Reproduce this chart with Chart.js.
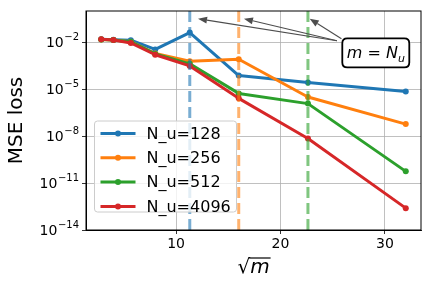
<!DOCTYPE html>
<html>
<head>
<meta charset="utf-8">
<script src="https://cdn.jsdelivr.net/npm/chart.js@4.4.0/dist/chart.umd.min.js"></script>
<style>
  html, body { margin: 0; padding: 0; background: #fff; }
</style>
</head>
<body>
<canvas id="lossChart" width="432" height="288"></canvas>
<script>
// ---------------------------------------------------------------------------
// Data
// ---------------------------------------------------------------------------
const sqrtM = [2.83, 4, 5.66, 8, 11.31, 16, 22.63, 32];
const seriesNames = ['N_u=128', 'N_u=256', 'N_u=512', 'N_u=4096'];
const lossNu128  = [1.55e-2, 1.45e-2, 1.35e-2, 3.5e-3, 4.2e-2, 7.4e-5, 2.7e-5, 7.1e-6];
const lossNu256  = [1.5e-2, 1.4e-2, 1.1e-2, 1.9e-3, 6.2e-4, 8.3e-4, 3.2e-6, 5.9e-8];
const lossNu512  = [1.5e-2, 1.4e-2, 1.07e-2, 1.8e-3, 4.2e-4, 5.4e-6, 1.2e-6, 5.6e-11];
const lossNu4096 = [1.55e-2, 1.38e-2, 9.1e-3, 1.6e-3, 3.1e-4, 2.6e-6, 7.1e-9, 2.5e-13];
const seriesColors = ['#1f77b4', '#ff7f0e', '#2ca02c', '#d62728'];

// vertical m = N_u markers (sqrt of 128, 256, 512)
const refLinesX = [11.31, 16, 22.63];
const refLineColors = ['rgba(31,119,180,0.6)', 'rgba(255,127,14,0.6)', 'rgba(44,160,44,0.6)'];

const xTicks = [10, 20, 30];
const yTicks = [1e-14, 1e-11, 1e-8, 1e-5, 1e-2];
const yTickBase = '10';
const yTickExps = ['−14', '−11', '−8', '−5', '−2'];

// annotation "m = N_u": box centre and arrows, in data coordinates
const noteAt = [29.13, 2.1e-3];
const arrowHeads = [[12.1, 0.32], [16.5, 0.32], [22.8, 0.32]];
const arrowTails = [[25.41, 0.0125], [25.41, 0.0125], [25.84, 0.0167]];

Chart.defaults.font.family = "'DejaVu Sans', sans-serif";
Chart.defaults.color = '#000';

const FONT = "'DejaVu Sans', sans-serif";

// ---------------------------------------------------------------------------
// Plugins: frame, y tick labels, legend box, annotation, x label
// ---------------------------------------------------------------------------
function roundRect(ctx, x, y, w, h, r) {
  ctx.beginPath();
  ctx.moveTo(x + r, y);
  ctx.lineTo(x + w - r, y);
  ctx.quadraticCurveTo(x + w, y, x + w, y + r);
  ctx.lineTo(x + w, y + h - r);
  ctx.quadraticCurveTo(x + w, y + h, x + w - r, y + h);
  ctx.lineTo(x + r, y + h);
  ctx.quadraticCurveTo(x, y + h, x, y + h - r);
  ctx.lineTo(x, y + r);
  ctx.quadraticCurveTo(x, y, x + r, y);
  ctx.closePath();
}

const framePlugin = {
  id: 'frame',
  afterDraw(chart) {
    const { ctx, chartArea: a } = chart;
    ctx.save();
    ctx.strokeStyle = '#000';
    ctx.lineWidth = 1;
    ctx.strokeRect(a.left, a.top, a.right - a.left, a.bottom - a.top);
    ctx.restore();
  },
};

// power-of-ten labels with a real superscript
const yLabelPlugin = {
  id: 'yLabels',
  afterDraw(chart) {
    const { ctx, chartArea: a, scales: { y } } = chart;
    ctx.save();
    ctx.fillStyle = '#000';
    ctx.textBaseline = 'alphabetic';
    const right = a.left - 7;
    yTicks.forEach((t, i) => {
      const py = y.getPixelForValue(t);
      ctx.font = '10px ' + FONT;
      const we = ctx.measureText(yTickExps[i]).width;
      ctx.fillText(yTickExps[i], right - we, py - 2);
      ctx.font = '14px ' + FONT;
      const wb = ctx.measureText(yTickBase).width;
      ctx.fillText(yTickBase, right - we - wb - 0.5, py + 5);
    });
    ctx.restore();
  },
};

const legendPlugin = {
  id: 'legendBox',
  afterDatasetsDraw(chart) {
    const { ctx, chartArea: a } = chart;
    const x0 = a.left + 8.5, y0 = a.bottom - 109, w = 142, h = 91;
    ctx.save();
    roundRect(ctx, x0, y0, w, h, 3);
    ctx.fillStyle = 'rgba(255,255,255,0.8)';
    ctx.fill();
    ctx.strokeStyle = '#cccccc';
    ctx.lineWidth = 1;
    ctx.stroke();
    ctx.font = '16px ' + FONT;
    ctx.textBaseline = 'middle';
    seriesNames.forEach((name, i) => {
      const y = y0 + 12.5 + i * 24.3;
      ctx.strokeStyle = seriesColors[i];
      ctx.lineWidth = 3;
      ctx.beginPath();
      ctx.moveTo(x0 + 6, y);
      ctx.lineTo(x0 + 41, y);
      ctx.stroke();
      ctx.fillStyle = seriesColors[i];
      ctx.beginPath();
      ctx.arc(x0 + 23.5, y, 3, 0, Math.PI * 2);
      ctx.fill();
      ctx.fillStyle = '#000';
      ctx.fillText(name, x0 + 52, y + 1);
    });
    ctx.restore();
  },
};

const notePlugin = {
  id: 'note',
  afterDatasetsDraw(chart) {
    const { ctx, scales: { x, y } } = chart;
    ctx.save();
    ctx.strokeStyle = '#4d4d4d';
    ctx.fillStyle = '#4d4d4d';
    ctx.lineWidth = 1.1;
    arrowHeads.forEach((hd, i) => {
      const tx = x.getPixelForValue(arrowTails[i][0]), ty = y.getPixelForValue(arrowTails[i][1]);
      const hx = x.getPixelForValue(hd[0]), hy = y.getPixelForValue(hd[1]);
      const ang = Math.atan2(hy - ty, hx - tx);
      const len = 9, half = 3.5;
      const bx = hx - len * Math.cos(ang), by = hy - len * Math.sin(ang);
      ctx.beginPath();
      ctx.moveTo(tx, ty);
      ctx.lineTo(bx, by);
      ctx.stroke();
      ctx.beginPath();
      ctx.moveTo(hx, hy);
      ctx.lineTo(bx + half * Math.sin(ang), by - half * Math.cos(ang));
      ctx.lineTo(bx - half * Math.sin(ang), by + half * Math.cos(ang));
      ctx.closePath();
      ctx.fill();
    });

    // text box
    const cx = x.getPixelForValue(noteAt[0]), cy = y.getPixelForValue(noteAt[1]);
    const bw = 67, bh = 29;
    roundRect(ctx, cx - bw / 2, cy - bh / 2, bw, bh, 5);
    ctx.fillStyle = '#fff';
    ctx.fill();
    ctx.strokeStyle = '#000';
    ctx.lineWidth = 1.8;
    ctx.stroke();

    const it = 'italic 16px ' + FONT, rg = '16px ' + FONT, sub = 'italic 11px ' + FONT;
    const parts = [['m', it, 0], [' = ', rg, 0], ['N', it, 0], ['u', sub, 3.5]];
    let total = 0;
    parts.forEach(p => { ctx.font = p[1]; total += ctx.measureText(p[0]).width; });
    let px = cx - total / 2;
    const base = cy + 5.5;
    ctx.fillStyle = '#000';
    ctx.textBaseline = 'alphabetic';
    parts.forEach(p => {
      ctx.font = p[1];
      ctx.fillText(p[0], px, base + p[2]);
      px += ctx.measureText(p[0]).width;
    });
    ctx.restore();
  },
};

const xLabelPlugin = {
  id: 'xLabel',
  afterDraw(chart) {
    const { ctx, chartArea: a } = chart;
    ctx.save();
    const root = '√', m = 'm';
    ctx.font = '20px ' + FONT;
    const wr = ctx.measureText(root).width;
    ctx.font = 'italic 20px ' + FONT;
    const wm = ctx.measureText(m).width;
    const x0 = (a.left + a.right) / 2 - (wr + wm) / 2;
    const base = 273;
    ctx.fillStyle = '#000';
    ctx.textBaseline = 'alphabetic';
    ctx.font = '20px ' + FONT;
    ctx.fillText(root, x0, base);
    ctx.font = 'italic 20px ' + FONT;
    ctx.fillText(m, x0 + wr, base);
    ctx.strokeStyle = '#000';
    ctx.lineWidth = 1.2;
    ctx.beginPath();
    ctx.moveTo(x0 + wr - 1, 258);
    ctx.lineTo(x0 + wr + wm + 1, 258);
    ctx.stroke();
    ctx.restore();
  },
};

// ---------------------------------------------------------------------------
// Chart
// ---------------------------------------------------------------------------
const lossSeries = [lossNu128, lossNu256, lossNu512, lossNu4096];

const datasets = lossSeries.map((vals, i) => ({
  label: seriesNames[i],
  data: sqrtM.map((v, j) => ({ x: v, y: vals[j] })),
  borderColor: seriesColors[i],
  backgroundColor: seriesColors[i],
  borderWidth: 3,
  borderJoinStyle: 'round',
  pointRadius: 3,
  pointBorderWidth: 0,
  tension: 0,
  order: 4 - i + 1,
}));

refLinesX.forEach((v, i) => {
  datasets.push({
    label: 'ref' + i,
    data: [{ x: v, y: 1e-14 }, { x: v, y: 1 }],
    borderColor: refLineColors[i],
    borderWidth: 3,
    borderDash: [11, 5],
    pointRadius: 0,
    order: 0,
  });
});

new Chart(document.getElementById('lossChart'), {
  type: 'line',
  data: { datasets },
  options: {
    responsive: false,
    animation: false,
    layout: { padding: { top: 11, right: 11, left: 0, bottom: 0 } },
    plugins: {
      legend: { display: false },
      tooltip: { enabled: false },
    },
    scales: {
      x: {
        type: 'linear',
        min: 1.37,
        max: 33.46,
        afterBuildTicks: s => { s.ticks = xTicks.map(v => ({ value: v })); },
        afterFit: s => { s.height = 58; },
        grid: { color: '#b0b0b0', lineWidth: 0.8, tickColor: '#000', tickLength: 4 },
        border: { color: '#000', width: 1 },
        ticks: { font: { size: 14 }, padding: 2, maxRotation: 0 },
      },
      y: {
        type: 'logarithmic',
        min: 1e-14,
        max: 1,
        afterBuildTicks: s => { s.ticks = yTicks.map(v => ({ value: v })); },
        afterFit: s => { s.width = 86; },
        grid: { color: '#b0b0b0', lineWidth: 0.8, tickColor: '#000', tickLength: 4 },
        border: { color: '#000', width: 1 },
        ticks: { display: false },
        title: { display: true, text: 'MSE loss', font: { size: 20 }, padding: { top: 5, bottom: 0 } },
      },
    },
  },
  plugins: [framePlugin, yLabelPlugin, legendPlugin, notePlugin, xLabelPlugin],
});
</script>
</body>
</html>
